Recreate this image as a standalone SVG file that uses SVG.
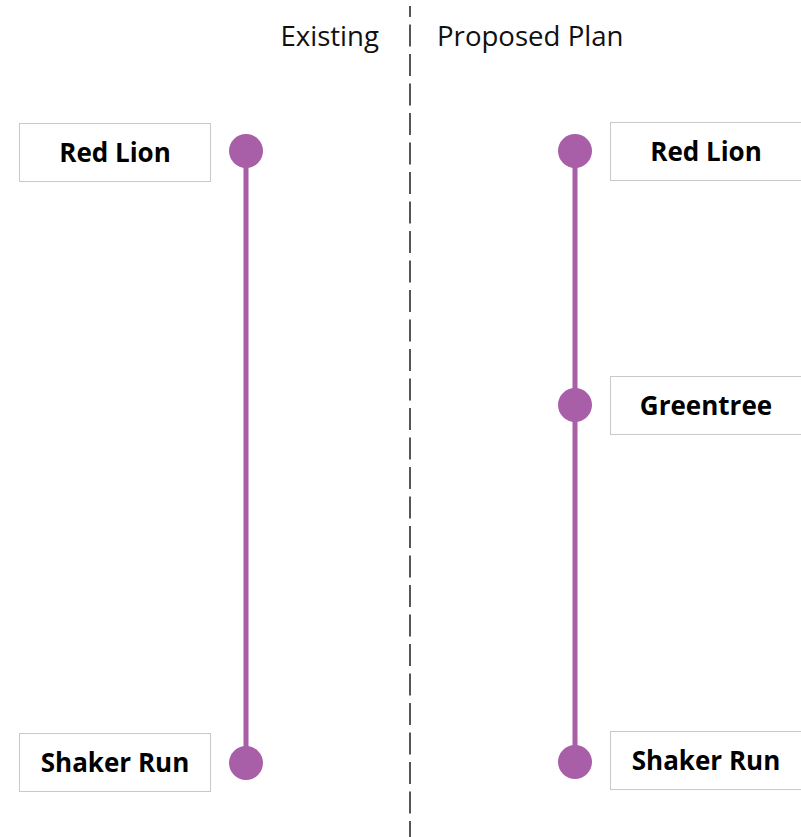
<svg xmlns="http://www.w3.org/2000/svg" width="801" height="837" viewBox="0 0 801 837">
<style>
.hdr{font-family:"Open Sans","Liberation Sans",sans-serif;font-size:27.6px;fill:#111}
.lbl{font-family:"Open Sans","Liberation Sans",sans-serif;font-size:26px;font-weight:bold;fill:#000;text-anchor:middle}
.box{fill:#fff;stroke:#c9c9c9;stroke-width:1}
.dot{fill:#a85fa8}
.route{stroke:#a85fa8;stroke-width:5;fill:none}
.divider{stroke:#555;stroke-width:2;stroke-dasharray:22 7.5;stroke-dashoffset:11}
</style>
<rect width="801" height="837" fill="#fff"/>
<g id="divider"><line class="divider" x1="410" y1="6" x2="410" y2="837"/></g>
<g id="headers">
<text class="hdr" x="379" y="46" text-anchor="end">Existing</text>
<text class="hdr" x="437" y="46">Proposed Plan</text>
</g>
<g id="connectors">
<line class="route" x1="246" y1="151" x2="246" y2="763"/>
<line class="route" x1="575" y1="151" x2="575" y2="762"/>
</g>
<g id="existing-red-lion">
<rect class="box" x="19.5" y="123.5" width="191" height="58"/>
<text class="lbl" x="115" y="162">Red Lion</text>
<circle class="dot" cx="246" cy="151" r="17"/>
</g>
<g id="existing-shaker-run">
<rect class="box" x="19.5" y="733.5" width="191" height="58"/>
<text class="lbl" x="115" y="772">Shaker Run</text>
<circle class="dot" cx="246" cy="763" r="17"/>
</g>
<g id="proposed-red-lion">
<rect class="box" x="610.5" y="122.5" width="195" height="58"/>
<text class="lbl" x="706" y="161">Red Lion</text>
<circle class="dot" cx="575" cy="151" r="17"/>
</g>
<g id="proposed-greentree">
<rect class="box" x="610.5" y="376.5" width="195" height="58"/>
<text class="lbl" x="706" y="415">Greentree</text>
<circle class="dot" cx="575" cy="405" r="17"/>
</g>
<g id="proposed-shaker-run">
<rect class="box" x="610.5" y="731.5" width="195" height="58"/>
<text class="lbl" x="706" y="770">Shaker Run</text>
<circle class="dot" cx="575" cy="762" r="17"/>
</g>
</svg>
